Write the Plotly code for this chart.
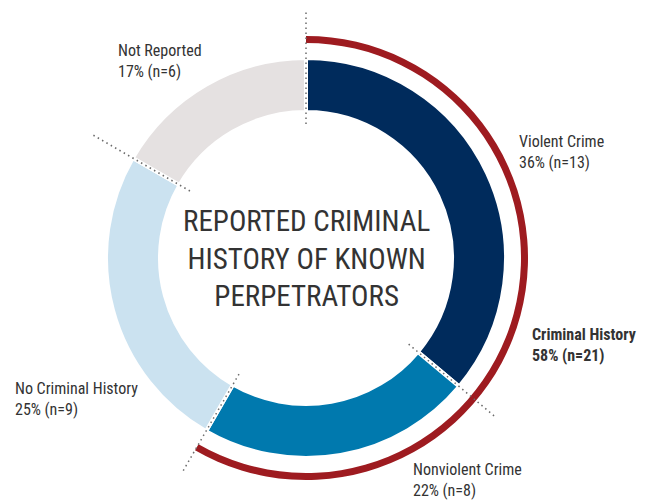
import math
import plotly.graph_objects as go

# ---- data ----
categories = ["Violent Crime", "Nonviolent Crime", "No Criminal History", "Not Reported"]
counts = [13, 8, 9, 6]
percents = [36, 22, 25, 17]
colors = ["#002b5c", "#0079ae", "#cbe2f0", "#e5e1e1"]

group_label = "Criminal History"
group_count = 21
group_percent = 58
group_members = ["Violent Crime", "Nonviolent Crime"]

center_title = ["REPORTED CRIMINAL", "HISTORY OF KNOWN", "PERPETRATORS"]

# ---- geometry (pixels, in the page's coordinates) ----
W, H = 658, 500
OFF = 8  # default body margin of the page
cx, cy = 306, 258
r_out, r_in = 200, 146
red_out, red_in = 222, 215
dot_r0, dot_r1 = 134, 247

FONT = "Liberation Sans Narrow, Roboto Condensed, Arial Narrow, Roboto, sans-serif"
TXT = "#333333"

def dom(r):
    return dict(x=[(cx - r - OFF) / W, (cx + r - OFF) / W],
                y=[1 - (cy + r - OFF) / H, 1 - (cy - r - OFF) / H])

fig = go.Figure()

fig.add_trace(go.Pie(
    labels=categories, values=counts, sort=False, direction="clockwise",
    rotation=0, hole=r_in / r_out, domain=dom(r_out),
    marker=dict(colors=colors, line=dict(color="white", width=4)),
    textinfo="none", hoverinfo="label+value", showlegend=False,
))

total = sum(counts)
grp_val = sum(c for cat, c in zip(categories, counts) if cat in group_members)
fig.add_trace(go.Pie(
    labels=[group_label, "other"], values=[grp_val, total - grp_val], sort=False,
    direction="clockwise", rotation=0, hole=red_in / red_out, domain=dom(red_out),
    marker=dict(colors=["#9e1b20", "rgba(0,0,0,0)"], line=dict(width=0)),
    textinfo="none", hoverinfo="skip", showlegend=False,
))

# dotted boundary lines
shapes = []
cum = 0
for c in counts:
    ang = cum / total * 2 * math.pi
    sx, sy = math.sin(ang), -math.cos(ang)
    shapes.append(dict(type="line", xref="x", yref="y",
                       x0=cx + dot_r0 * sx, y0=cy + dot_r0 * sy,
                       x1=cx + dot_r1 * sx, y1=cy + dot_r1 * sy,
                       line=dict(color="#6b6b6b", width=1.5, dash="1.5px,3.5px")))
    cum += c

# labels
label_pos = {
    "Not Reported": (116, 61),
    "Violent Crime": (517, 152),
    "No Criminal History": (13, 399),
    "Nonviolent Crime": (411, 480),
}
ann = []
for cat, c, p in zip(categories, counts, percents):
    x, y = label_pos[cat]
    ann.append(dict(x=x, y=y, xref="x", yref="y", xanchor="left", yanchor="middle",
                    text=f"{cat}<br>{p}% (n={c})", showarrow=False, align="left",
                    font=dict(family=FONT, size=16, color=TXT)))
ann.append(dict(x=530, y=345, xref="x", yref="y", xanchor="left", yanchor="middle",
                text=f"<b>{group_label}</b><br><b>{group_percent}% (n={group_count})</b>",
                showarrow=False, align="left",
                font=dict(family=FONT, size=16, color=TXT)))
ann.append(dict(x=cx, y=258, xref="x", yref="y", xanchor="center", yanchor="middle",
                text="<br>".join(center_title), showarrow=False, align="center",
                font=dict(family=FONT, size=29, color=TXT)))

fig.update_layout(
    width=W, height=H, margin=dict(l=0, r=0, t=0, b=0),
    paper_bgcolor="white", plot_bgcolor="rgba(0,0,0,0)",
    xaxis=dict(range=[OFF, W + OFF], visible=False, fixedrange=True),
    yaxis=dict(range=[H + OFF, OFF], visible=False, fixedrange=True),
    shapes=shapes, annotations=ann, showlegend=False,
)

fig.write_html("out.html")
